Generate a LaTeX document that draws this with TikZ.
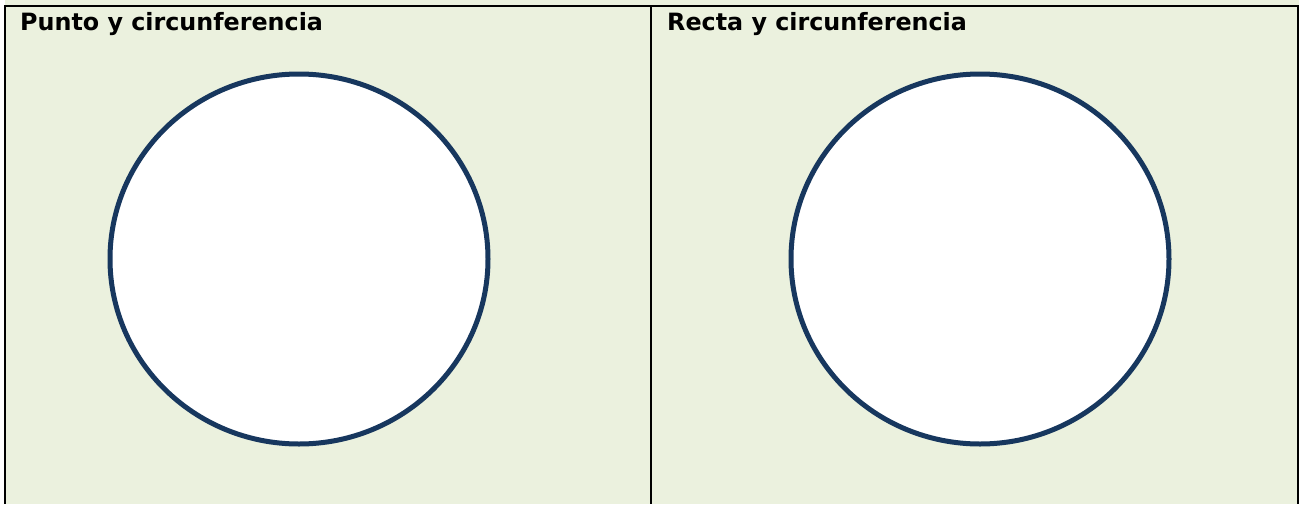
\documentclass[tikz,border=0pt]{standalone}
\usepackage{fontspec}
\usetikzlibrary{shapes.geometric}
\setmainfont{DejaVu Sans}
\definecolor{bgg}{HTML}{EBF1DE}
\definecolor{ringc}{HTML}{17375E}
\begin{document}
\begin{tikzpicture}[x=1pt,y=-1pt,
  ring/.style={draw=ringc,line width=5pt,fill=white,ellipse,minimum width=378pt,minimum height=370pt,inner sep=0pt},
  rule/.style={line width=2pt,black},
  title/.style={anchor=base west,inner sep=0pt,font=\bfseries\fontsize{23.8}{28}\selectfont}]
\useasboundingbox (0,0) rectangle (1299,504);
\fill[white] (0,0) rectangle (1299,504);
\fill[bgg] (5,0) rectangle (1299,504);
\draw[rule] (4,6) -- (1299,6);
\draw[rule] (5,5) -- (5,504);
\draw[rule] (651,5) -- (651,504);
\draw[rule] (1298,5) -- (1298,504);
\node[title] (t1) at (20,30) {Punto y circunferencia};
\node[title] (t2) at (667,30) {Recta y circunferencia};
\node[ring] (c1) at (299,259) {};
\node[ring] (c2) at (980,259) {};
\end{tikzpicture}
\end{document}
